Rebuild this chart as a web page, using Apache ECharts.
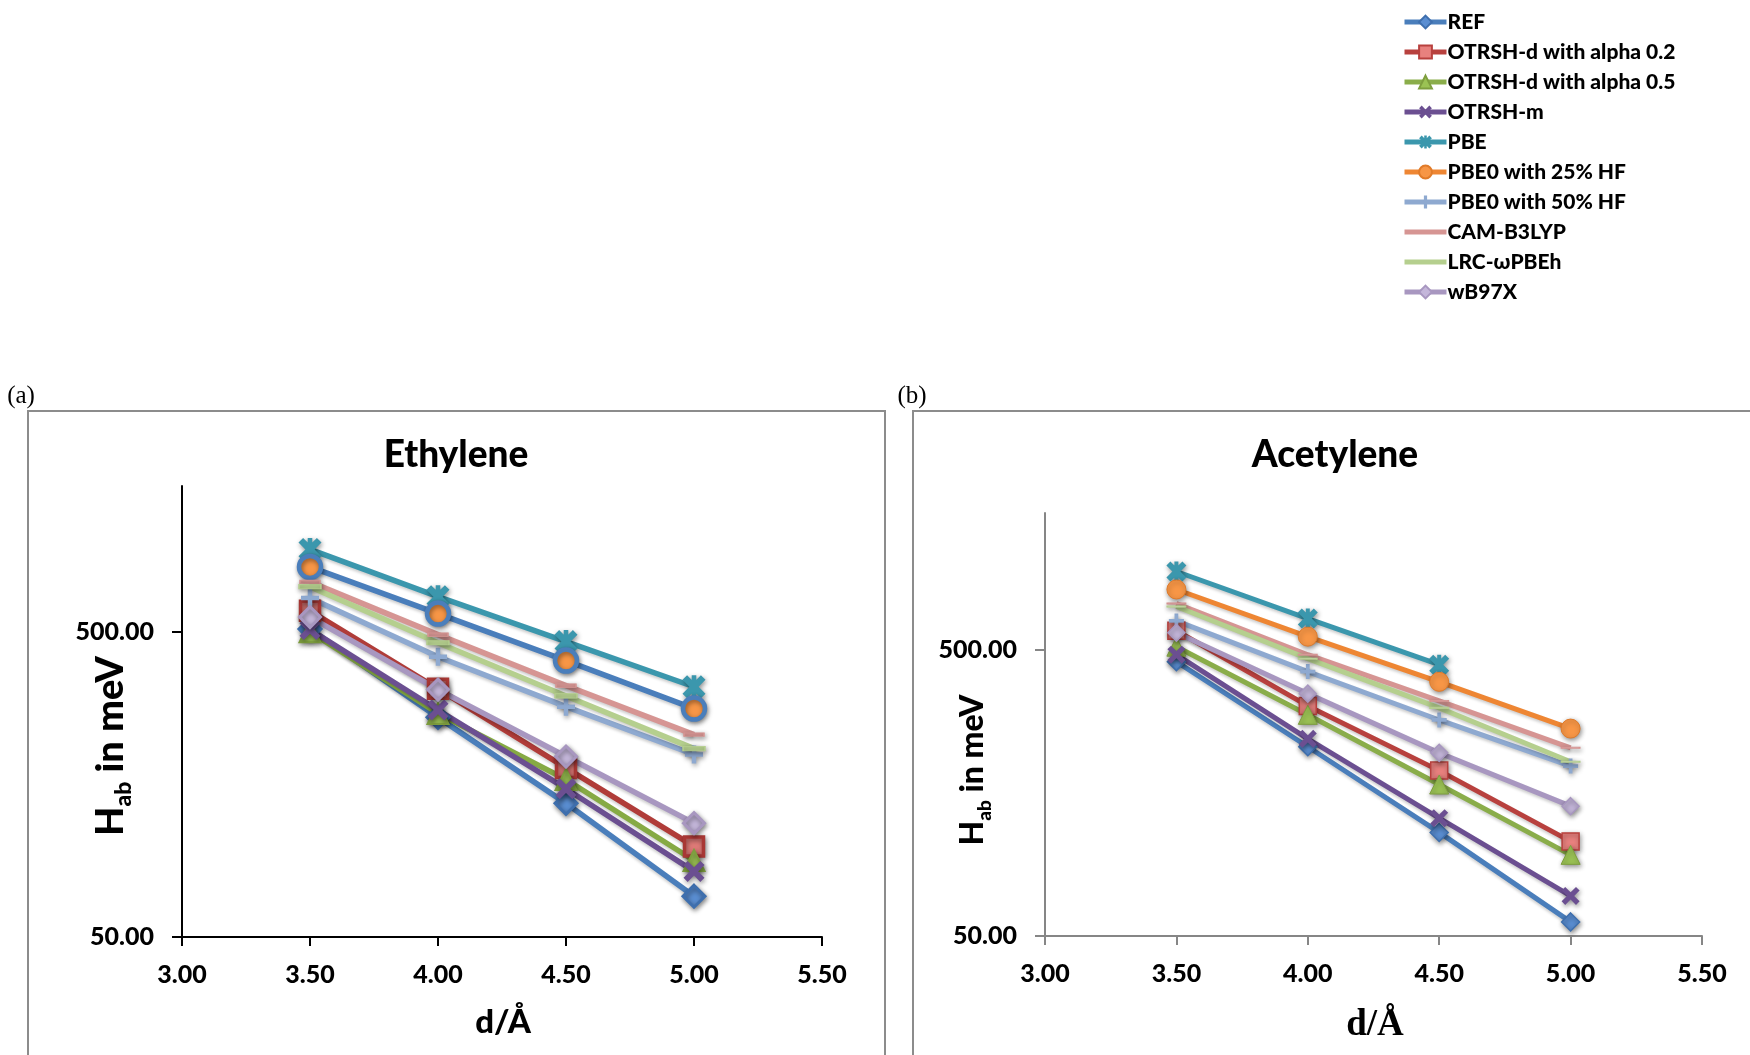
<!DOCTYPE html>
<html>
<head>
<meta charset="utf-8">
<script src="https://cdn.jsdelivr.net/npm/echarts@6/dist/echarts.min.js"></script>
<style>
html,body{margin:0;padding:0;background:#fff;}
#chart{width:1750px;height:1055px;}
</style>
</head>
<body>
<div id="chart"></div>
<script>
// Donor-acceptor separation (Å)
const distances = [3.5, 4.0, 4.5, 5.0];
const yTickValues = [50, 500];

const methods = ['REF', 'OTRSH-d with alpha 0.2', 'OTRSH-d with alpha 0.5', 'OTRSH-m', 'PBE',
  'PBE0 with 25% HF', 'PBE0 with 50% HF', 'CAM-B3LYP', 'LRC-ωPBEh', 'wB97X'];

// Ethylene dimer coupling H_ab (meV)
const ethREF   = [510, 262, 137, 68];
const ethOT02  = [585, 325, 179, 99];
const ethOT05  = [500, 270, 164, 89];
const ethOTm   = [508, 277, 153, 82];
const ethPBE   = [930, 651, 464, 330];
const ethPBE25 = [815, 573, 402, 280];
const ethPBE50 = [645, 414, 284, 198];
const ethCAM   = [728, 489, 333, 230];
const ethLRC   = [702, 460, 308, 207];
const ethWB97X = [558, 323, 195, 118];

// Acetylene dimer coupling H_ab (meV)
const acREF   = [454, 229, 115, 56];
const acOT02  = [582, 318, 189, 107];
const acOT05  = [512, 296, 169, 96];
const acOTm   = [480, 244, 129, 69];
const acPBE   = [937, 642, 443, null];
const acPBE25 = [811, 555, 386, 265];
const acPBE50 = [630, 419, 284, 196];
const acCAM   = [724, 480, 331, 227];
const acLRC   = [707, 465, 313, 203];
const acWB97X = [573, 351, 218, 142];

const ethValues = [ethREF, ethOT02, ethOT05, ethOTm, ethPBE, ethPBE25, ethPBE50, ethCAM, ethLRC, ethWB97X];
const acValues  = [acREF, acOT02, acOT05, acOTm, acPBE, acPBE25, acPBE50, acCAM, acLRC, acWB97X];

// marker shapes
const X_PATH = 'path://M0,4 L4,0 L10,6 L16,0 L20,4 L14,10 L20,16 L16,20 L10,14 L4,20 L0,16 L6,10 Z';
const STAR_PATH = 'path://M0,4 L4,0 L10,6 L16,0 L20,4 L14,10 L20,16 L16,20 L10,14 L4,20 L0,16 L6,10 Z M8,0 L12,0 L12,20 L8,20 Z';
const PLUS_PATH = 'path://M7.5,0 L12.5,0 L12.5,7.5 L20,7.5 L20,12.5 L12.5,12.5 L12.5,20 L7.5,20 L7.5,12.5 L0,12.5 L0,7.5 L7.5,7.5 Z';
const DASH_PATH = 'path://M0,0 L20,0 L20,6 L0,6 Z';
const BAR_PATH = 'path://M0,0 L20,0 L20,9 L0,9 Z';
const LEGEND_LINE = 'path://M0,0 L42,0 L42,5 L0,5 Z';

// series looks for the acetylene panel (also used by the legend)
const acLooks = [
  {line:'#4A7EBB', symbol:'diamond', size:18, fill:'#5A8ED2', border:'#3E6FAE', bw:1.5},
  {line:'#B8413E', symbol:'rect',    size:17, fill:'#E8817E', border:'#B8413E', bw:1.5},
  {line:'#8AAD4A', symbol:'triangle',size:19, fill:'#9BC254', border:'#7E9E3E', bw:1},
  {line:'#6B4F91', symbol:X_PATH,    size:18, fill:'#6B4F91', border:'#6B4F91', bw:0},
  {line:'#3B97AD', symbol:STAR_PATH, size:20, fill:'#3B97AD', border:'#3B97AD', bw:0},
  {line:'#EE8633', symbol:'circle',  size:19, fill:'#F79646', border:'#E07B2A', bw:1},
  {line:'#8EA9D0', symbol:PLUS_PATH, size:15, fill:'#8EA9D0', border:'#8EA9D0', bw:0},
  {line:'#D69593', symbol:DASH_PATH, size:[18,5], fill:'#E4A5A3', border:'#D69593', bw:1},
  {line:'#B5CF8E', symbol:DASH_PATH, size:[18,5], fill:'#C8DDA8', border:'#B5CF8E', bw:1},
  {line:'#A897C0', symbol:'diamond', size:17, fill:'#C4B6DA', border:'#A897C0', bw:1.5}
];

// series looks for the ethylene panel
const ethLooks = [
  {line:'#4A7EBB', symbol:'diamond', size:22, fill:'#5A8ED2', border:'#3E6FAE', bw:3},
  {line:'#B03C39', symbol:'rect',    size:19, fill:'#E07B78', border:'#A83835', bw:3.5},
  {line:'#86AA44', symbol:'triangle',size:21, fill:'#9BC254', border:'#7E9E3E', bw:2},
  {line:'#6B4F91', symbol:X_PATH,    size:21, fill:'#6B4F91', border:'#6B4F91', bw:0},
  {line:'#3B97AD', symbol:STAR_PATH, size:23, fill:'#3B97AD', border:'#3B97AD', bw:0},
  {line:'#4A7EBB', symbol:'circle',  size:22, fill:'#F79646', border:'#4A7EBB', bw:4.5},
  {line:'#8EA9D0', symbol:PLUS_PATH, size:18, fill:'#8EA9D0', border:'#8EA9D0', bw:0},
  {line:'#D69593', symbol:BAR_PATH,  size:[20,8], fill:'#D69593', border:'#D69593', bw:1},
  {line:'#B5CF8E', symbol:BAR_PATH,  size:[22,10], fill:'#B5CF8E', border:'#B5CF8E', bw:1},
  {line:'#A897C0', symbol:'diamond', size:21, fill:'#C4B6DA', border:'#A897C0', bw:3}
];

function makeSeries(name, values, axisIndex, look, width) {
  return {
    name: name,
    type: 'line',
    xAxisIndex: axisIndex,
    yAxisIndex: axisIndex,
    data: distances.map((d, i) => [d, values[i]]),
    symbol: look.symbol,
    symbolSize: look.size,
    symbolKeepAspect: true,
    showAllSymbol: true,
    connectNulls: false,
    lineStyle: {color: look.line, width: width,
      shadowColor: 'rgba(0,0,0,0.2)', shadowBlur: 3, shadowOffsetY: 2},
    itemStyle: {color: look.fill, borderColor: look.border, borderWidth: look.bw,
      shadowColor: 'rgba(0,0,0,0.45)', shadowBlur: 5, shadowOffsetX: 1, shadowOffsetY: 2},
    emphasis: {disabled: true},
    animation: false
  };
}

const series = [];
methods.forEach((m, i) => series.push(makeSeries(m, acValues[i], 1, acLooks[i], 5)));
methods.forEach((m, i) => series.push(makeSeries(m, ethValues[i], 0, ethLooks[i], 5.5)));

// legend entries: plain line icon for the dash-marker methods
const legendData = methods.map((m, i) =>
  acLooks[i].symbol === DASH_PATH
    ? {name: m, icon: LEGEND_LINE, itemStyle: {color: acLooks[i].line, borderWidth: 0}}
    : {name: m});

const tickFont = {fontFamily: 'Lato', fontWeight: 900, fontSize: 25, color: '#000'};

function xAxisFor(gridIndex, axisColor) {
  return {
    type: 'value', gridIndex: gridIndex, min: 3, max: 5.5, interval: 0.5,
    axisLine: {show: true, lineStyle: {color: axisColor, width: 2}},
    axisTick: {show: true, inside: false, length: 9, lineStyle: {color: axisColor, width: 2}},
    axisLabel: Object.assign({margin: 25, formatter: v => v.toFixed(2)}, tickFont),
    splitLine: {show: false}
  };
}
function yAxisFor(gridIndex, axisColor) {
  return {
    type: 'log', logBase: 10, gridIndex: gridIndex, min: 50, max: 1500,
    axisLine: {show: true, lineStyle: {color: axisColor, width: 2}},
    axisTick: {show: true, inside: false, length: 10, customValues: yTickValues,
      lineStyle: {color: axisColor, width: 2}},
    axisLabel: Object.assign({margin: 28, customValues: yTickValues,
      formatter: v => Number(v).toFixed(2)}, tickFont),
    splitLine: {show: false},
    minorTick: {show: false}
  };
}

function axisTitle(x, y, size) {
  return {
    type: 'text', x: x, y: y, rotation: Math.PI / 2,
    style: {
      text: '{m|H}{s|ab}{m| in meV}',
      align: 'center', verticalAlign: 'middle',
      rich: {
        m: {fontFamily: 'Lato', fontWeight: 900, fontSize: size, lineHeight: size + 5, padding: [0, 0, 6, 0], fill: '#000'},
        s: {fontFamily: 'Lato', fontWeight: 900, fontSize: Math.round(size * 0.6), lineHeight: Math.round(size * 0.6), verticalAlign: 'bottom', fill: '#000'}
      }
    }
  };
}

const option = {
  backgroundColor: '#fff',
  animation: false,
  legend: {
    orient: 'vertical', left: 1397, top: 6,
    itemWidth: 42, itemHeight: 16, itemGap: 8,
    selectedMode: false,
    data: legendData,
    lineStyle: {width: 5},
    textStyle: {fontFamily: 'Lato', fontWeight: 900, fontSize: 21, lineHeight: 22, color: '#000', padding: [0, 0, 0, -4]}
  },
  grid: [
    {left: 182, top: 486, width: 640, height: 451},
    {left: 1045, top: 513, width: 657, height: 423}
  ],
  xAxis: [xAxisFor(0, '#000'), xAxisFor(1, '#868686')],
  yAxis: [yAxisFor(0, '#000'), yAxisFor(1, '#868686')],
  series: series,
  graphic: [
    {type: 'rect', shape: {x: 28, y: 411, width: 857, height: 700}, style: {fill: 'none', stroke: '#8c8c8c', lineWidth: 2}, silent: true},
    {type: 'rect', shape: {x: 913, y: 411, width: 900, height: 700}, style: {fill: 'none', stroke: '#8c8c8c', lineWidth: 2}, silent: true},
    {type: 'text', x: 21, y: 396, style: {text: '(a)', fontFamily: 'Liberation Serif', fontSize: 25, fill: '#000', align: 'center', verticalAlign: 'middle'}},
    {type: 'text', x: 912, y: 396, style: {text: '(b)', fontFamily: 'Liberation Serif', fontSize: 25, fill: '#000', align: 'center', verticalAlign: 'middle'}},
    {type: 'text', x: 456, y: 455, style: {text: 'Ethylene', fontFamily: 'Lato', fontWeight: 900, fontSize: 37, fill: '#000', align: 'center', verticalAlign: 'middle'}},
    {type: 'text', x: 1335, y: 455, style: {text: 'Acetylene', fontFamily: 'Lato', fontWeight: 900, fontSize: 37, fill: '#000', align: 'center', verticalAlign: 'middle'}},
    {type: 'text', x: 503, y: 1022, style: {text: 'd/Å', fontFamily: 'Lato', fontWeight: 900, fontSize: 33, fill: '#000', align: 'center', verticalAlign: 'middle'}},
    {type: 'text', x: 1375, y: 1025, style: {text: 'd/Å', fontFamily: 'Liberation Serif', fontWeight: 'bold', fontSize: 37, fill: '#000', align: 'center', verticalAlign: 'middle'}},
    axisTitle(114, 746, 38),
    axisTitle(976, 770, 32)
  ]
};

const chart = echarts.init(document.getElementById('chart'), null, {renderer: 'canvas'});
chart.setOption(option);
</script>
</body>
</html>
